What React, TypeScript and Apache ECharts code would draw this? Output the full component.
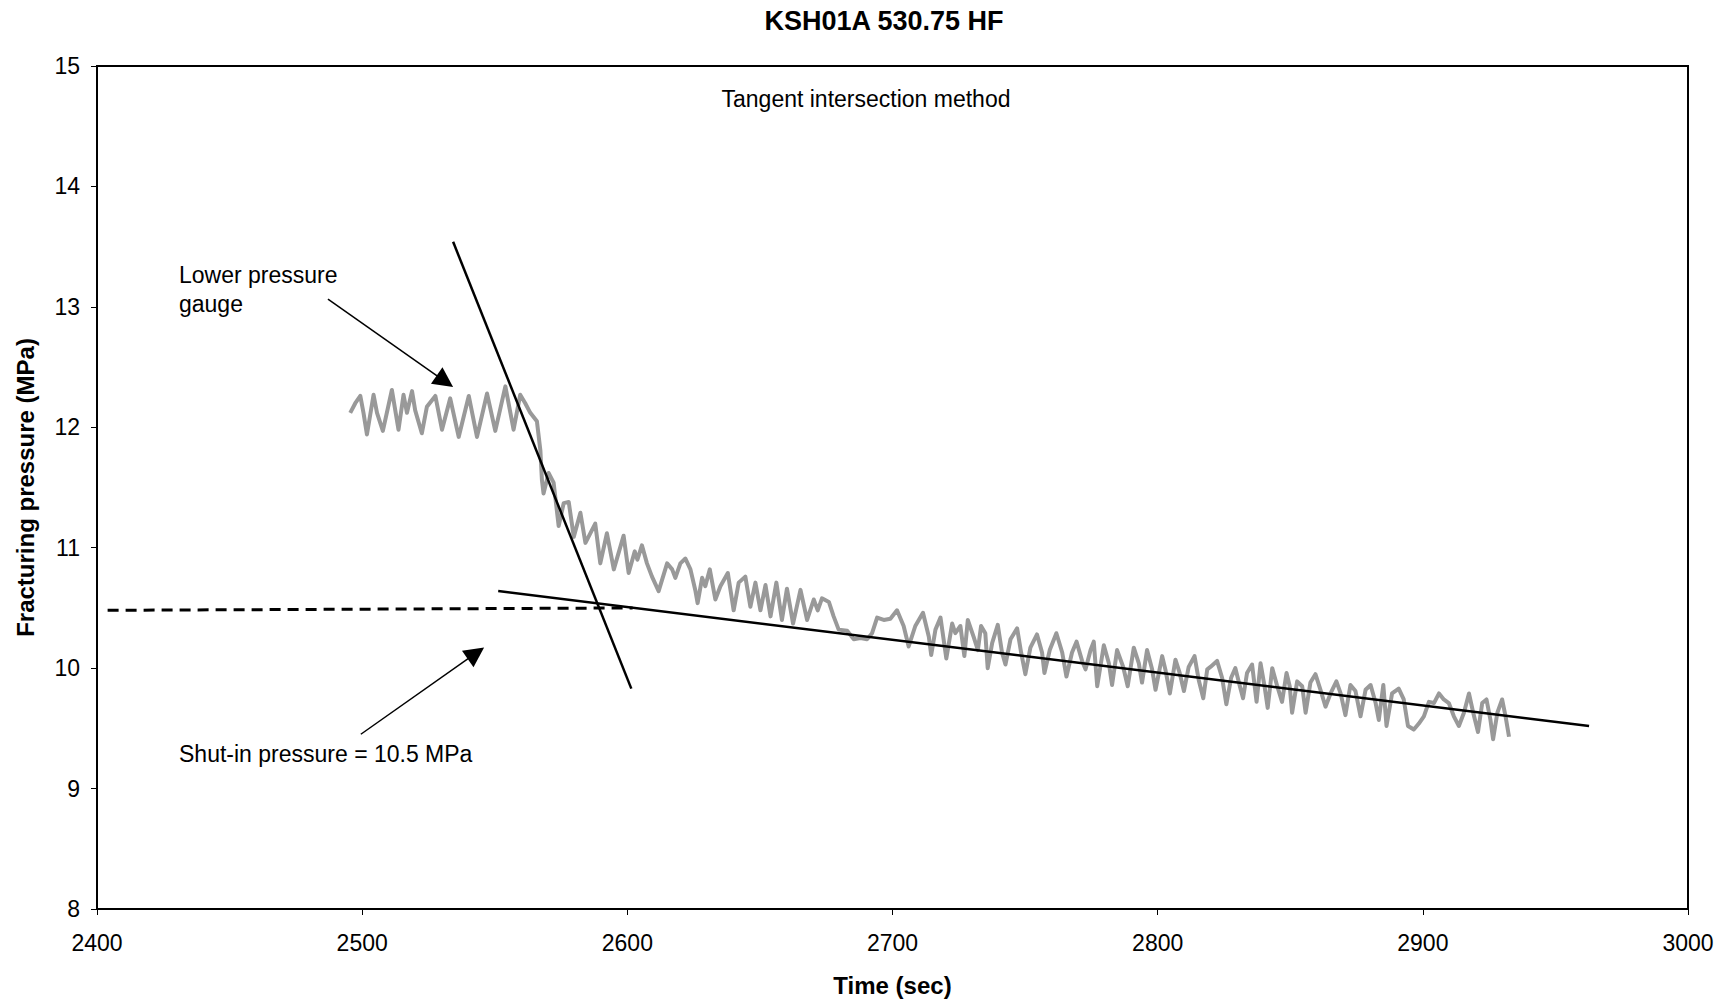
import React, { useEffect, useRef } from "react";
import * as echarts from "echarts";

const chartTitle = "KSH01A 530.75 HF";
const xAxisName = "Time (sec)";
const yAxisName = "Fracturing pressure (MPa)";
const xTicks = { min: 2400, max: 3000, step: 100 };
const yTicks = { min: 8, max: 15, step: 1 };

// Lower pressure gauge record
const timeSec = [
  2495.5, 2497.4, 2499.3, 2500.5, 2501.8, 2504.3, 2505.6, 2507.8, 2511.2, 2513.7,
  2515.6, 2516.9, 2518.8, 2520.0, 2522.5, 2524.4, 2527.6, 2530.1, 2533.2, 2536.4,
  2540.2, 2543.3, 2547.1, 2550.2, 2554.0, 2557.1, 2559.6, 2561.5, 2563.4, 2565.9,
  2567.2, 2567.8, 2568.4, 2570.3, 2572.2, 2574.1, 2576.0, 2577.9, 2579.8, 2582.3,
  2584.2, 2587.9, 2589.8, 2592.3, 2594.9, 2598.6, 2600.5, 2602.8, 2603.8, 2605.5,
  2607.4, 2609.3, 2611.8, 2615.0, 2616.9, 2618.1, 2620.0, 2621.9, 2623.8, 2625.7,
  2626.5, 2628.2, 2629.4, 2631.1, 2633.2, 2635.1, 2637.9, 2640.1, 2642.0, 2644.5,
  2646.4, 2648.3, 2650.2, 2652.1, 2654.0, 2656.2, 2658.3, 2660.2, 2662.5, 2665.3,
  2667.8, 2670.3, 2671.8, 2673.4, 2676.0, 2677.8, 2679.7, 2682.9, 2685.4, 2687.9,
  2690.4, 2692.3, 2694.2, 2696.7, 2699.2, 2701.7, 2704.2, 2706.1, 2708.6, 2711.5,
  2713.7, 2714.6, 2716.2, 2718.1, 2720.3, 2722.5, 2723.7, 2725.6, 2727.1, 2728.4,
  2730.6, 2732.2, 2733.4, 2735.0, 2735.9, 2737.6, 2739.7, 2741.3, 2742.6, 2744.5,
  2747.0, 2748.5, 2750.1, 2752.0, 2754.5, 2756.4, 2757.3, 2759.3, 2761.8, 2764.0,
  2765.6, 2767.7, 2769.4, 2771.5, 2772.8, 2774.7, 2775.9, 2777.2, 2779.7, 2781.6,
  2782.8, 2784.7, 2787.0, 2788.7, 2791.0, 2792.9, 2794.1, 2796.0, 2797.9, 2799.2,
  2801.7, 2802.9, 2804.6, 2806.7, 2808.3, 2809.9, 2811.7, 2813.9, 2815.5, 2817.2,
  2818.7, 2819.9, 2822.4, 2824.3, 2825.9, 2827.7, 2829.3, 2831.0, 2832.2, 2833.7,
  2835.6, 2837.3, 2838.8, 2840.3, 2841.5, 2843.2, 2845.1, 2846.9, 2848.6, 2849.8,
  2850.7, 2852.6, 2854.5, 2855.8, 2857.6, 2859.5, 2861.4, 2863.3, 2865.2, 2867.4,
  2869.0, 2870.8, 2872.7, 2874.6, 2876.5, 2878.4, 2880.3, 2882.2, 2883.4, 2885.1,
  2886.3, 2888.4, 2890.9, 2892.8, 2894.4, 2896.6, 2898.5, 2900.4, 2902.3, 2904.2,
  2906.1, 2907.9, 2909.8, 2911.7, 2913.6, 2915.5, 2917.4, 2919.0, 2920.8, 2922.4,
  2924.0, 2925.5, 2926.5, 2928.1, 2929.9, 2931.2, 2932.5,
];
const pressureMPa = [
  12.12, 12.20, 12.26, 12.12, 11.94, 12.27, 12.12, 11.97, 12.31, 11.98,
  12.27, 12.12, 12.30, 12.14, 11.95, 12.17, 12.26, 11.98, 12.24, 11.92,
  12.26, 11.92, 12.28, 11.97, 12.34, 11.98, 12.27, 12.20, 12.12, 12.05,
  11.81, 11.56, 11.45, 11.62, 11.54, 11.18, 11.37, 11.38, 11.09, 11.29,
  11.04, 11.20, 10.87, 11.12, 10.82, 11.10, 10.79, 10.97, 10.90, 11.02,
  10.87, 10.76, 10.64, 10.87, 10.82, 10.75, 10.87, 10.91, 10.82, 10.64,
  10.54, 10.75, 10.68, 10.82, 10.57, 10.68, 10.79, 10.48, 10.71, 10.76,
  10.51, 10.71, 10.48, 10.69, 10.43, 10.71, 10.40, 10.66, 10.37, 10.65,
  10.40, 10.57, 10.48, 10.58, 10.55, 10.43, 10.32, 10.31, 10.24, 10.25,
  10.24, 10.29, 10.42, 10.40, 10.41, 10.48, 10.35, 10.18, 10.35, 10.46,
  10.26, 10.11, 10.32, 10.42, 10.08, 10.37, 10.29, 10.35, 10.10, 10.40,
  10.26, 10.15, 10.35, 10.29, 10.00, 10.21, 10.36, 10.13, 10.03, 10.24,
  10.33, 10.13, 9.95, 10.17, 10.28, 10.13, 9.96, 10.15, 10.29, 10.13,
  9.93, 10.13, 10.22, 10.06, 9.99, 10.15, 10.22, 9.85, 10.19, 10.04,
  9.86, 10.15, 10.01, 9.85, 10.17, 10.04, 9.88, 10.15, 9.99, 9.82,
  10.10, 9.99, 9.79, 10.07, 9.96, 9.81, 10.01, 10.10, 9.90, 9.75,
  9.99, 10.01, 10.06, 9.92, 9.70, 9.92, 10.00, 9.85, 9.75, 9.96,
  10.03, 9.72, 10.04, 9.85, 9.67, 10.00, 9.85, 9.72, 9.96, 9.85,
  9.63, 9.89, 9.85, 9.63, 9.88, 9.95, 9.82, 9.68, 9.79, 9.89,
  9.79, 9.61, 9.86, 9.81, 9.60, 9.82, 9.86, 9.71, 9.57, 9.86,
  9.52, 9.79, 9.83, 9.74, 9.52, 9.49, 9.54, 9.60, 9.72, 9.71,
  9.79, 9.74, 9.71, 9.60, 9.52, 9.63, 9.79, 9.63, 9.47, 9.71,
  9.74, 9.57, 9.41, 9.63, 9.74, 9.60, 9.43,
];

// Tangent lines and shut-in level
const steepTangentTime = [2534.3, 2601.5];
const steepTangentP = [13.54, 9.83];
const shallowTangentTime = [2551.3, 2962.7];
const shallowTangentP = [10.64, 9.52];
const shutInTime = [2404, 2602];
const shutInP = [10.48, 10.5];

// Annotation arrows: [startTime, startP, headTime, headP]
const gaugeArrow = [2487.1, 13.065, 2531.2, 12.382];
const shutInArrow = [2499.5, 9.451, 2542.9, 10.124];

const noteMethod = "Tangent intersection method";
const noteGauge = "Lower pressure\ngauge";
const noteShutIn = "Shut-in pressure = 10.5 MPa";

const FONT = "'Liberation Sans', Arial, Helvetica, sans-serif";

const pairs = (xs: number[], ys: number[]) => xs.map((x, i) => [x, ys[i]]);

export default function App() {
  const ref = useRef<HTMLDivElement>(null);
  useEffect(() => {
    if (!ref.current) return;
    const chart = echarts.init(ref.current, null, { renderer: "svg" });
    const axisCommon = {
      type: "value",
      nameLocation: "middle",
      nameTextStyle: { fontFamily: FONT, fontSize: 24, fontWeight: "bold", color: "#000" },
      axisLine: { show: true, onZero: false, lineStyle: { color: "#000", width: 2 } },
      axisTick: { show: true, inside: false, length: 6, lineStyle: { color: "#000", width: 1 } },
      splitLine: { show: false },
    };
    chart.setOption({
      animation: false,
      backgroundColor: "#ffffff",
      grid: {
        left: 97,
        right: 36,
        top: 66,
        bottom: 94,
        show: true,
        borderColor: "#000",
        borderWidth: 2,
        backgroundColor: "transparent",
      },
      xAxis: {
        ...axisCommon,
        min: xTicks.min,
        max: xTicks.max,
        interval: xTicks.step,
        name: xAxisName,
        nameGap: 64,
        axisLabel: {
          margin: 22,
          fontFamily: FONT,
          fontSize: 23,
          color: "#000",
          formatter: (v: number) => String(v),
        },
      },
      yAxis: {
        ...axisCommon,
        min: yTicks.min,
        max: yTicks.max,
        interval: yTicks.step,
        name: yAxisName,
        nameGap: 60,
        axisLabel: {
          margin: 17,
          fontFamily: FONT,
          fontSize: 23,
          color: "#000",
          formatter: (v: number) => String(v),
        },
      },
      series: [
        {
          type: "line",
          name: "Lower pressure gauge",
          data: pairs(timeSec, pressureMPa),
          showSymbol: false,
          symbol: "none",
          lineStyle: { color: "#999999", width: 4, join: "round" },
          z: 2,
        },
        {
          type: "line",
          name: "Steep tangent",
          data: pairs(steepTangentTime, steepTangentP),
          showSymbol: false,
          symbol: "none",
          lineStyle: { color: "#000", width: 2.5 },
          z: 3,
        },
        {
          type: "line",
          name: "Shallow tangent",
          data: pairs(shallowTangentTime, shallowTangentP),
          showSymbol: false,
          symbol: "none",
          lineStyle: { color: "#000", width: 2.5 },
          z: 3,
        },
        {
          type: "line",
          name: "Shut-in level",
          data: pairs(shutInTime, shutInP),
          showSymbol: false,
          symbol: "none",
          lineStyle: { color: "#000", width: 3, type: [11, 7] },
          z: 3,
        },
        {
          type: "lines",
          coordinateSystem: "cartesian2d",
          symbol: ["none", "triangle"],
          symbolSize: [15, 20],
          lineStyle: { color: "#000", width: 1.5, opacity: 1, curveness: 0 },
          itemStyle: { color: "#000" },
          data: [gaugeArrow, shutInArrow].map((a) => ({
            coords: [
              [a[0], a[1]],
              [a[2], a[3]],
            ],
          })),
          z: 4,
        },
      ],
      graphic: [
        {
          type: "text",
          x: 884,
          y: 21,
          style: {
            text: chartTitle,
            font: `bold 27px ${FONT}`,
            fill: "#000",
            align: "center",
            verticalAlign: "middle",
            textAlign: "center",
            textVerticalAlign: "middle",
          },
        },
        {
          type: "text",
          x: 866,
          y: 99,
          style: {
            text: noteMethod,
            font: `23px ${FONT}`,
            fill: "#000",
            align: "center",
            verticalAlign: "middle",
            textAlign: "center",
            textVerticalAlign: "middle",
          },
        },
        {
          type: "text",
          x: 179,
          y: 260,
          style: {
            text: noteGauge,
            font: `23px ${FONT}`,
            lineHeight: 29.5,
            fill: "#000",
            align: "left",
            verticalAlign: "top",
            textAlign: "left",
            textVerticalAlign: "top",
          },
        },
        {
          type: "text",
          x: 179,
          y: 754,
          style: {
            text: noteShutIn,
            font: `23px ${FONT}`,
            fill: "#000",
            align: "left",
            verticalAlign: "middle",
            textAlign: "left",
            textVerticalAlign: "middle",
          },
        },
      ],
    });
    return () => chart.dispose();
  }, []);
  return (
    <div
      ref={ref}
      style={{ position: "fixed", left: 0, top: 0, width: 1724, height: 1003, background: "#fff" }}
    />
  );
}
